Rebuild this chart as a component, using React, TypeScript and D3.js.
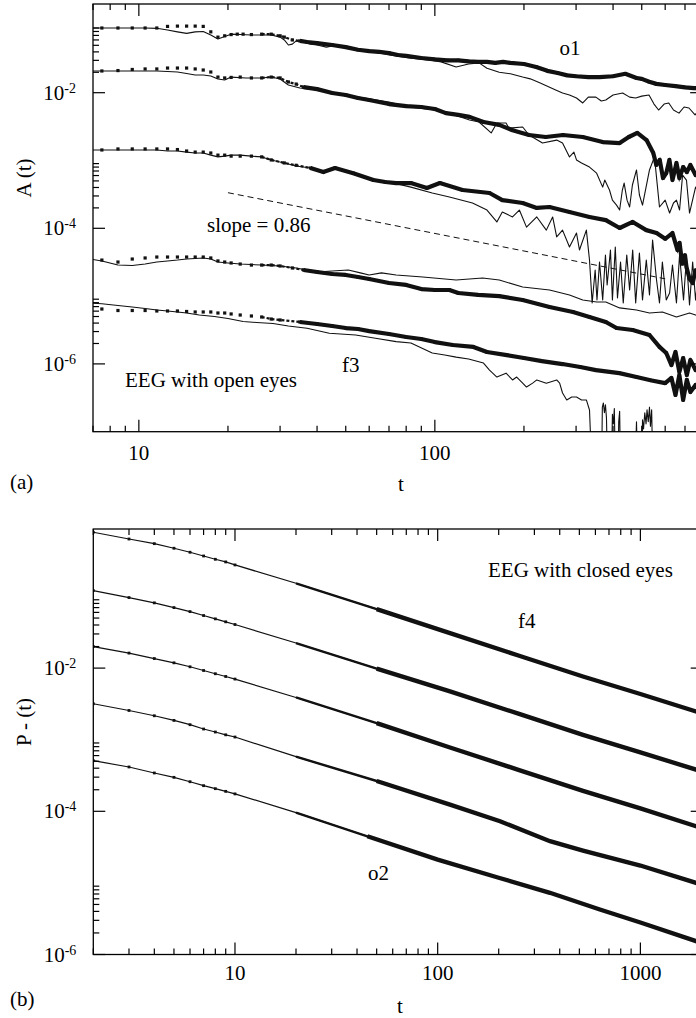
import React from "react";
import * as d3 from "d3";

type P = [number, number];

// ================= Panel (a): A(t), EEG with open eyes =================
// each channel: a thin line series and a point series, [t, A(t)]
const aCurve1Line: P[] = [[6.5,9.0e-2],[7.5,9.0e-2],[8.5,9.0e-2],[9.5,9.0e-2],[10.5,9.0e-2],[11.5,8.9e-2],[12.5,8.4e-2],[13.5,7.9e-2],[14.5,7.5e-2],[15.5,7.9e-2],[16.5,8.0e-2],[17.5,7.1e-2],[18.5,6.2e-2],[19.5,6.75e-2],[20.5,7.3e-2],[22,7.2e-2],[24,7.1e-2],[26,7.1e-2],[28,7.1e-2],[30,6.6e-2],[31,6.0e-2],[32,5.05e-2],[33,5.2e-2],[34,5.8e-2],[36,5.6e-2],[38,5.2e-2],[40,5.05e-2],[43,4.7e-2],[45,4.9e-2],[48,4.9e-2],[50,4.55e-2],[55,4.3e-2],[60,4.0e-2],[65,3.85e-2],[70,3.6e-2],[82,3.25e-2],[98,3.0e-2],[105,2.85e-2],[118,2.4e-2],[130,2.65e-2],[141,2.75e-2],[150,2.3e-2],[165,2.0e-2],[180,1.9e-2],[198,1.7e-2],[210,1.6e-2],[226,1.4e-2],[240,1.25e-2],[256,1.1e-2],[270,9.9e-3],[285,9.25e-3],[301,8.35e-3],[316,7.05e-3],[330,8.6e-3],[350,8.6e-3],[365,7.55e-3],[378,7.8e-3],[400,9.25e-3],[431,9.9e-3],[455,8.6e-3],[477,8.35e-3],[500,8.9e-3],[529,9.25e-3],[550,6.8e-3],[570,5.55e-3],[595,6.8e-3],[617,7.05e-3],[640,5.55e-3],[668,5.0e-3],[695,6.15e-3],[722,5.95e-3],[757,4.7e-3],[780,5.55e-3]];
const aCurve1Pts: P[] = [[7.5,9.0e-2],[8.5,9.0e-2],[9.5,9.0e-2],[10.5,9.0e-2],[11.5,9.0e-2],[12.5,9.5e-2],[13.5,9.6e-2],[14.5,9.6e-2],[15.5,9.6e-2],[16.5,9.5e-2],[17.5,7.9e-2],[18.5,6.6e-2],[19.5,6.9e-2],[20.5,7.2e-2],[21.5,7.3e-2],[22.5,7.3e-2],[24,7.2e-2],[26,7.3e-2],[28,7.3e-2],[30,6.9e-2],[31,6.6e-2],[33,6.0e-2],[35,5.8e-2],[37,5.6e-2],[40,5.4e-2],[45,5.05e-2],[50,4.7e-2],[55,4.3e-2],[60,4.1e-2],[65,4.0e-2],[70,3.85e-2],[75,3.6e-2],[80,3.5e-2],[90,3.25e-2],[100,3.1e-2],[110,3.0e-2],[120,3.0e-2],[130,2.9e-2],[140,2.85e-2],[150,2.85e-2],[160,2.75e-2],[170,2.85e-2],[180,2.75e-2],[200,2.65e-2],[220,2.4e-2],[240,2.1e-2],[260,1.95e-2],[280,1.8e-2],[300,1.75e-2],[330,1.7e-2],[360,1.7e-2],[400,1.75e-2],[440,1.9e-2],[480,1.65e-2],[500,1.6e-2],[530,1.45e-2],[560,1.35e-2],[600,1.3e-2],[650,1.25e-2],[700,1.2e-2],[750,1.17e-2],[800,1.17e-2]];

const aCurve2Line: P[] = [[6.5,2.09e-2],[7.5,2.09e-2],[8.5,2.09e-2],[9.5,2.09e-2],[10.5,2.09e-2],[11.5,2.09e-2],[12.5,2.05e-2],[13.5,2.02e-2],[14.5,1.92e-2],[15.5,1.82e-2],[16.5,1.82e-2],[17.5,1.76e-2],[18.5,1.59e-2],[19.5,1.54e-2],[20.5,1.7e-2],[23,1.65e-2],[26,1.65e-2],[28,1.7e-2],[30,1.59e-2],[32,1.3e-2],[35,1.17e-2],[40,1.1e-2],[45,9.9e-3],[50,9.25e-3],[55,8.6e-3],[60,8.1e-3],[70,7.3e-3],[82,6.15e-3],[100,5.55e-3],[109,5.2e-3],[120,4.5e-3],[131,3.95e-3],[141,3.7e-3],[155,2.55e-3],[162,3.57e-3],[174,3.57e-3],[178,3.0e-3],[198,3.12e-3],[208,2.38e-3],[231,1.81e-3],[258,2.0e-3],[270,1.81e-3],[285,1.13e-3],[295,1.33e-3],[301,1.02e-3],[313,9.2e-4],[333,8.0e-4],[352,6.5e-4],[369,4.05e-4],[375,5.15e-4],[389,3.67e-4],[398,2.6e-4],[411,2.2e-4],[421,1.86e-4],[430,3.67e-4],[436,4.65e-4],[446,2.6e-4],[455,2.06e-4],[465,4.35e-4],[480,7.25e-4],[491,3.1e-4],[503,2.2e-4],[531,7.25e-4],[552,1.13e-3],[574,2.06e-4],[600,2.6e-4],[621,1.68e-4],[640,2.36e-4],[655,2.6e-4],[671,1.86e-4],[687,6.1e-4],[708,5.15e-4],[725,1.68e-4],[760,4.05e-4],[800,2.6e-4]];
const aCurve2Pts: P[] = [[7.5,2.09e-2],[8.5,2.12e-2],[9.5,2.2e-2],[10.5,2.24e-2],[11.5,2.24e-2],[12.5,2.31e-2],[13.5,2.31e-2],[14.5,2.31e-2],[15.5,2.24e-2],[16.5,2.16e-2],[17.5,2.02e-2],[18.5,1.7e-2],[19.5,1.65e-2],[20.5,1.68e-2],[22,1.7e-2],[24,1.65e-2],[26,1.65e-2],[28,1.7e-2],[30,1.65e-2],[32,1.44e-2],[34,1.34e-2],[36,1.21e-2],[40,1.13e-2],[45,9.9e-3],[50,9.25e-3],[55,8.35e-3],[60,7.8e-3],[70,6.8e-3],[80,6.35e-3],[90,6.15e-3],[100,5.75e-3],[109,5.0e-3],[120,4.7e-3],[131,4.4e-3],[146,3.7e-3],[165,3.35e-3],[183,2.8e-3],[208,2.38e-3],[237,2.22e-3],[271,2.38e-3],[316,2.22e-3],[369,1.87e-3],[421,1.81e-3],[452,2.22e-3],[483,2.55e-3],[519,2.0e-3],[547,1.29e-3],[560,8.6e-4],[575,1.02e-3],[590,5.52e-4],[605,6.5e-4],[620,1.02e-3],[635,5.15e-4],[655,9.2e-4],[670,5.52e-4],[690,8.0e-4],[710,6.75e-4],[730,8.6e-4],[760,6.1e-4],[800,7.75e-4]];

const aCurve3Line: P[] = [[6.5,1.43e-3],[7.5,1.43e-3],[8.5,1.43e-3],[9.5,1.43e-3],[10.5,1.43e-3],[11.5,1.43e-3],[12.5,1.38e-3],[13.5,1.38e-3],[14.5,1.33e-3],[15.5,1.29e-3],[16.5,1.29e-3],[17.5,1.2e-3],[18.5,1.13e-3],[19.5,1.16e-3],[20.5,1.2e-3],[22,1.2e-3],[24,1.16e-3],[26,1.13e-3],[28,1.02e-3],[31,9.2e-4],[34,8.3e-4],[38,7.75e-4],[42,6.75e-4],[46,7.75e-4],[53,6.5e-4],[62,5.15e-4],[70,4.82e-4],[83,4.05e-4],[98,3.32e-4],[112,2.9e-4],[134,2.36e-4],[150,1.86e-4],[162,1.24e-4],[169,1.74e-4],[183,1.47e-4],[193,1.86e-4],[204,1.04e-4],[221,1.47e-4],[238,9.4e-5],[250,1.47e-4],[258,7.45e-5],[270,9.4e-5],[285,5.3e-5],[301,8.5e-5],[308,4.79e-5],[325,9.4e-5],[333,3.4e-5],[340,7.9e-6],[348,2.43e-5],[353,8.75e-6],[360,3.18e-5],[369,8.75e-6],[377,4.04e-5],[382,1.46e-5],[392,4.79e-5],[398,8.75e-6],[407,5.3e-5],[414,9.37e-6],[424,3.18e-5],[433,7.9e-6],[445,4.04e-5],[455,1.23e-5],[466,4.79e-5],[477,7.9e-6],[491,4.32e-5],[503,8.75e-6],[518,3.4e-5],[531,1.04e-5],[544,6.7e-5],[561,1.73e-5],[574,7.9e-6],[587,3.18e-5],[605,8.75e-6],[621,1.11e-5],[635,2.87e-5],[655,7.9e-6],[671,4.04e-5],[692,8.75e-6],[708,3.65e-5],[725,7.4e-6],[743,3.18e-5],[760,8.75e-6],[780,2.6e-5]];
const aCurve3Pts: P[] = [[7.5,1.43e-3],[8.5,1.48e-3],[9.5,1.48e-3],[10.5,1.48e-3],[11.5,1.48e-3],[12.5,1.48e-3],[13.5,1.45e-3],[14.5,1.38e-3],[15.5,1.33e-3],[16.5,1.33e-3],[17.5,1.29e-3],[18.5,1.2e-3],[19.5,1.2e-3],[20.5,1.16e-3],[22,1.16e-3],[24,1.16e-3],[26,1.13e-3],[28,1.02e-3],[31,9.2e-4],[34,8.5e-4],[38,7.75e-4],[42,6.75e-4],[46,7.75e-4],[53,6.5e-4],[62,5.15e-4],[68,4.82e-4],[74,4.65e-4],[83,4.65e-4],[94,3.93e-4],[104,4.65e-4],[124,3.67e-4],[153,3.32e-4],[169,2.6e-4],[198,2.36e-4],[221,2.0e-4],[244,2.06e-4],[285,1.74e-4],[333,1.47e-4],[378,1.32e-4],[421,1.01e-4],[466,1.24e-4],[518,9.4e-5],[561,8.5e-5],[600,7.0e-5],[635,8.5e-5],[660,4.8e-5],[671,6.1e-5],[685,3.0e-5],[700,4.0e-5],[708,2.69e-5],[725,1.8e-5],[743,1.56e-5],[760,2.4e-5],[800,1.3e-5]];

const aCurve4Line: P[] = [[6.5,3.65e-5],[7.5,3.3e-5],[8.5,2.87e-5],[9.5,2.83e-5],[10.5,2.97e-5],[11.5,3.18e-5],[12.5,3.3e-5],[13.5,3.4e-5],[14.5,3.52e-5],[15.5,3.58e-5],[16.5,3.65e-5],[17.5,3.52e-5],[18.5,3.18e-5],[20,3.08e-5],[22,2.97e-5],[26,2.87e-5],[30,2.78e-5],[34,2.6e-5],[40,2.27e-5],[45,2.35e-5],[51,2.43e-5],[56,2.2e-5],[60,2.05e-5],[66,2.2e-5],[74,2.05e-5],[91,1.91e-5],[118,1.73e-5],[145,1.85e-5],[165,1.73e-5],[198,1.36e-5],[244,1.23e-5],[285,1.04e-5],[316,8.75e-6],[352,8.2e-6],[378,8.2e-6],[421,6.7e-6],[480,6.23e-6],[531,5.63e-6],[587,5.83e-6],[655,4.92e-6],[725,5.63e-6],[760,5.27e-6],[800,4.9e-6]];
const aCurve4Pts: P[] = [[7.5,3.4e-5],[8.5,3.18e-5],[9.5,3.52e-5],[10.5,3.65e-5],[11.5,3.77e-5],[12.5,3.77e-5],[13.5,3.77e-5],[14.5,3.77e-5],[15.5,3.77e-5],[16.5,3.77e-5],[17.5,3.65e-5],[18.5,3.3e-5],[19.5,3.18e-5],[20.5,3.08e-5],[22,2.97e-5],[24,2.87e-5],[26,2.87e-5],[28,2.87e-5],[30,2.78e-5],[33,2.6e-5],[36,2.43e-5],[40,2.27e-5],[45,2.12e-5],[50,2.05e-5],[55,1.91e-5],[60,1.79e-5],[70,1.56e-5],[80,1.46e-5],[90,1.27e-5],[100,1.23e-5],[112,1.23e-5],[120,1.11e-5],[140,1.04e-5],[165,1.0e-5],[198,8.75e-6],[244,6.9e-6],[293,5.83e-6],[333,4.92e-6],[378,4.15e-6],[411,3.38e-6],[466,3.16e-6],[531,2.67e-6],[574,1.78e-6],[605,1.45e-6],[630,9.6e-7],[650,1.5e-6],[670,7.6e-7],[690,1.22e-6],[710,6.86e-7],[730,1.14e-6],[760,8.1e-7],[800,1.07e-6]];

const aCurve5Line: P[] = [[6.5,8.0e-6],[7.5,7.7e-6],[8.5,7.26e-6],[9.5,6.9e-6],[10.5,6.56e-6],[11.5,6.23e-6],[12.5,6.03e-6],[13.5,5.83e-6],[14.5,5.63e-6],[16,5.26e-6],[18,5.0e-6],[20,4.67e-6],[22.5,4.22e-6],[25,4.08e-6],[28.4,3.94e-6],[32,3.62e-6],[37,3.35e-6],[44,2.83e-6],[54,2.67e-6],[63,2.39e-6],[74,2.13e-6],[83,2.03e-6],[98,1.45e-6],[108,1.35e-6],[118,1.26e-6],[130,1.18e-6],[146,1.03e-6],[153,8.1e-7],[162,6.4e-7],[174,7.3e-7],[183,5.8e-7],[189,6.4e-7],[198,5.2e-7],[204,4.56e-7],[214,5.2e-7],[221,5.8e-7],[238,5.2e-7],[258,5.8e-7],[264,5.2e-7],[270,3.72e-7],[279,2.94e-7],[290,3.25e-7],[301,3.25e-7],[313,2.94e-7],[325,2.94e-7],[333,2.09e-7],[339,3e-8],[366,3e-8],[368,2.3e-7],[371,2.65e-7],[374,1.9e-7],[377,2.5e-7],[380,1.6e-7],[383,3e-8],[395,3e-8],[398,1.8e-7],[401,1.3e-7],[404,2.2e-7],[407,3e-8],[416,3e-8],[418,1.4e-7],[421,2.0e-7],[424,3e-8],[475,3e-8],[480,1.4e-7],[484,3e-8],[500,3e-8],[503,1.5e-7],[507,1.1e-7],[512,1.9e-7],[517,1.3e-7],[521,2.1e-7],[526,1.4e-7],[531,2.3e-7],[535,1.2e-7],[540,2.1e-7],[545,3e-8],[800,3e-8]];
const aCurve5Pts: P[] = [[7.5,6.45e-6],[8.5,6.13e-6],[9.5,6.13e-6],[10.5,6.13e-6],[11.5,6.03e-6],[12.5,6.03e-6],[13.5,6.03e-6],[14.5,5.93e-6],[15.5,5.83e-6],[16.5,5.83e-6],[17.5,5.83e-6],[18.5,5.63e-6],[19.5,5.63e-6],[20.5,5.45e-6],[22,5.26e-6],[24,5.09e-6],[26,4.92e-6],[28,4.59e-6],[30,4.44e-6],[35,4.15e-6],[40,3.88e-6],[45,3.62e-6],[50,3.38e-6],[55,3.27e-6],[60,3.05e-6],[70,2.76e-6],[80,2.49e-6],[90,2.33e-6],[100,2.1e-6],[115,1.9e-6],[135,1.78e-6],[150,1.5e-6],[175,1.35e-6],[200,1.22e-6],[230,1.1e-6],[270,9.95e-7],[310,9.0e-7],[350,8.1e-7],[420,7.3e-7],[480,6.4e-7],[540,5.7e-7],[600,5.2e-7],[630,6.2e-7],[650,3.48e-7],[670,6.86e-7],[690,2.94e-7],[710,5.8e-7],[730,3.85e-7],[760,4.9e-7],[800,3.48e-7]];

const aSlopeT = [20, 600];
const aSlopeA = [3.35e-4, 1.8e-5];

const aLines = [aCurve1Line, aCurve2Line, aCurve3Line, aCurve4Line, aCurve5Line];
const aPoints = [aCurve1Pts, aCurve2Pts, aCurve3Pts, aCurve4Pts, aCurve5Pts];

// ================= Panel (b): P-(t), EEG with closed eyes =================
const bCurve1: P[] = [[2,0.789],[3,0.635],[4,0.547],[5,0.472],[6,0.415],[7,0.368],[8,0.331],[9,0.304],[10,0.276],[20,0.153],[50,0.0667],[115,0.0308],[250,0.0150],[521,0.00763],[1000,0.00435],[1880,0.00248],[2030,0.00233]];
const bCurve2: P[] = [[2,0.121],[3,0.0966],[4,0.0815],[5,0.070],[6,0.0615],[7,0.0542],[8,0.0487],[9,0.0443],[10,0.0406],[20,0.0224],[50,0.00981],[115,0.00472],[250,0.00231],[521,0.00117],[1000,0.000667],[1880,0.000382],[2030,0.000357]];
const bCurve3: P[] = [[2,0.0200],[3,0.0162],[4,0.0136],[5,0.01185],[6,0.01043],[7,0.00926],[8,0.00834],[9,0.00764],[10,0.00703],[20,0.00389],[50,0.00170],[115,0.000778],[250,0.000380],[521,0.000193],[1000,0.000110],[1880,6.18e-5],[2030,5.8e-5]];
const bCurve4: P[] = [[2,0.00318],[3,0.00256],[4,0.00216],[5,0.00186],[6,0.00162],[7,0.00141],[8,0.00128],[9,0.00117],[10,0.00109],[20,0.00058],[50,0.000265],[115,0.000124],[203,7.26e-5],[358,3.82e-5],[521,2.83e-5],[1000,1.75e-5],[1880,1.0e-5],[2030,9.4e-6]];
const bCurve5: P[] = [[2,0.000509],[3,0.000416],[4,0.000343],[5,0.000298],[6,0.000259],[7,0.000228],[8,0.000207],[9,0.000190],[10,0.000175],[20,9.6e-5],[45,4.48e-5],[100,2.12e-5],[200,1.18e-5],[358,7.28e-6],[631,4.25e-6],[1000,2.8e-6],[1880,1.54e-6],[2030,1.44e-6]];
const bCurves = [bCurve1, bCurve2, bCurve3, bCurve4, bCurve5];

const FONT = "'Liberation Serif', 'Times New Roman', Times, serif";

type Tick = { v: number; m: number; e: number };
function logTicks(lo: number, hi: number): Tick[] {
  const out: Tick[] = [];
  for (let e = Math.floor(Math.log10(lo)) - 1; e <= Math.ceil(Math.log10(hi)); e++) {
    for (let m = 1; m <= 9; m++) {
      const v = m * Math.pow(10, e);
      if (v >= lo * 0.9999 && v <= hi * 1.0001) out.push({ v, m, e });
    }
  }
  return out;
}

function Panel(props: {
  id: string;
  x: d3.ScaleLogarithmic<number, number>;
  y: d3.ScaleLogarithmic<number, number>;
  top: number;
  bottom: number;
  xLabels: { v: number; s: string }[];
  yLabels: number[];
  xLabelBase: number;
  children?: React.ReactNode;
}) {
  const { id, x, y, top, bottom } = props;
  const [x0, x1] = x.range();
  const left = x0;
  const right = x1;
  const xt = logTicks(x.domain()[0], x.domain()[1]);
  const yt = logTicks(y.invert(bottom), y.invert(top)).filter((t) => t.e % 2 === 0);
  const major = 12;
  const minor = 6;
  const sw = 1.2;
  return (
    <g>
      <defs>
        <clipPath id={id}>
          <rect x={left} y={top} width={right - left} height={bottom - top} />
        </clipPath>
      </defs>
      <g clipPath={`url(#${id})`}>{props.children}</g>
      <rect x={left} y={top} width={right - left} height={bottom - top} fill="none" stroke="#000" strokeWidth={1.3} />
      {xt.map((t, i) => {
        const px = x(t.v);
        const L = t.m === 1 ? major : minor;
        return (
          <g key={"xt" + i}>
            <line x1={px} x2={px} y1={bottom} y2={bottom - L} stroke="#000" strokeWidth={sw} />
            <line x1={px} x2={px} y1={top} y2={top + L} stroke="#000" strokeWidth={sw} />
          </g>
        );
      })}
      {yt.map((t, i) => {
        const py = y(t.v);
        const L = t.m === 1 ? major : minor;
        return (
          <g key={"yt" + i}>
            <line x1={left} x2={left + L} y1={py} y2={py} stroke="#000" strokeWidth={sw} />
            <line x1={right} x2={right - L} y1={py} y2={py} stroke="#000" strokeWidth={sw} />
          </g>
        );
      })}
      {props.xLabels.map((l, i) => (
        <text key={"xl" + i} x={x(l.v)} y={props.xLabelBase} textAnchor="middle" fontSize={21} fontFamily={FONT}>
          {l.s}
        </text>
      ))}
      {props.yLabels.map((e, i) => (
        <text key={"yl" + i} x={left - 17} y={y(Math.pow(10, e)) + 7} textAnchor="end" fontSize={21} fontFamily={FONT}>
          10
          <tspan fontSize={14} dy={-7}>
            {String(e)}
          </tspan>
        </text>
      ))}
    </g>
  );
}

export default function App() {
  // panel (a)
  const aTop = 4;
  const aBottom = 431.7;
  const aLeft = 93;
  const aDecX = 296;
  const aDecY = 67.8;
  const xa = d3.scaleLog().domain([7, 800]).range([aLeft, aLeft + aDecX * Math.log10(800 / 7)]);
  const ya = d3.scaleLog().domain([1e-7, 1e-2]).range([aBottom, aBottom - 5 * aDecY]);
  const lineA = d3.line<P>().x((d) => xa(d[0])).y((d) => ya(d[1]));

  // panel (b)
  const bTop = 529;
  const bBottom = 954.5;
  const bLeft = 93.3;
  const bDecX = 202.7;
  const bDecY = 71.6;
  const xb = d3.scaleLog().domain([2, 2030]).range([bLeft, bLeft + bDecX * Math.log10(2030 / 2)]);
  const yb = d3.scaleLog().domain([1e-6, 1e-2]).range([bBottom, bBottom - 4 * bDecY]);
  const lineB = d3.line<P>().x((d) => xb(d[0])).y((d) => yb(d[1]));

  const sq = 3.2;
  const slope: P[] = aSlopeT.map((t, i) => [t, aSlopeA[i]] as P);

  return (
    <svg
      width={696}
      height={1018}
      style={{ position: "absolute", left: 0, top: 0, background: "#fff" }}
      fontFamily={FONT}
    >
      <rect x={0} y={0} width={696} height={1018} fill="#fff" />
      <Panel
        id="clipA"
        x={xa}
        y={ya}
        top={aTop}
        bottom={aBottom}
        xLabels={[{ v: 10, s: "10" }, { v: 100, s: "100" }]}
        yLabels={[-2, -4, -6]}
        xLabelBase={460}
      >
        {aLines.map((d, i) => (
          <path key={"al" + i} d={lineA(d) || ""} fill="none" stroke="#111" strokeWidth={1.1} strokeLinejoin="round" />
        ))}
        {aPoints.map((d, i) => (
          <path
            key={"apm" + i}
            d={lineA(d.filter((p) => p[0] >= 26)) || ""}
            fill="none"
            stroke="#111"
            strokeWidth={2.2}
            strokeDasharray="3,2"
          />
        ))}
        {aPoints.map((d, i) => (
          <path
            key={"ap" + i}
            d={lineA(d.filter((p) => p[0] >= 35)) || ""}
            fill="none"
            stroke="#111"
            strokeWidth={4.2}
            strokeLinejoin="round"
          />
        ))}
        {aPoints.map((d, i) => (
          <g key={"aps" + i}>
            {d.map((p, j) => (
              <rect key={j} x={xa(p[0]) - sq / 2} y={ya(p[1]) - sq / 2} width={sq} height={sq} fill="#111" />
            ))}
          </g>
        ))}
        <path d={lineA(slope) || ""} fill="none" stroke="#111" strokeWidth={1} strokeDasharray="6,4" />
      </Panel>
      <text x={570} y={55} textAnchor="middle" fontSize={21}>o1</text>
      <text x={207} y={232} fontSize={21}>slope = 0.86</text>
      <text x={342} y={372} fontSize={21}>f3</text>
      <text x={125} y={387} fontSize={21}>EEG with open eyes</text>
      <text x={401} y={491} textAnchor="middle" fontSize={21}>t</text>
      <text x={10} y={489} fontSize={21}>(a)</text>
      <text transform={`translate(31,178) rotate(-90)`} textAnchor="middle" fontSize={21}>A (t)</text>

      <Panel
        id="clipB"
        x={xb}
        y={yb}
        top={bTop}
        bottom={bBottom}
        xLabels={[{ v: 10, s: "10" }, { v: 100, s: "100" }, { v: 1000, s: "1000" }]}
        yLabels={[-2, -4, -6]}
        xLabelBase={980}
      >
        {bCurves.map((d, i) => (
          <g key={"bc" + i}>
            <path d={lineB(d) || ""} fill="none" stroke="#111" strokeWidth={1.2} />
            <path d={lineB(d.filter((p) => p[0] >= 20)) || ""} fill="none" stroke="#111" strokeWidth={2.4} />
            <path d={lineB(d.filter((p) => p[0] >= 45)) || ""} fill="none" stroke="#111" strokeWidth={4.4} />
            {d
              .filter((p) => p[0] <= 10)
              .map((p, j) => (
                <rect key={j} x={xb(p[0]) - 1.4} y={yb(p[1]) - 1.4} width={2.8} height={2.8} fill="#111" />
              ))}
          </g>
        ))}
      </Panel>
      <text x={488} y={577} fontSize={21}>EEG with closed eyes</text>
      <text x={518} y={628} fontSize={21}>f4</text>
      <text x={368} y={880} fontSize={21}>o2</text>
      <text x={400} y={1013} textAnchor="middle" fontSize={21}>t</text>
      <text x={10} y={1006} fontSize={21}>(b)</text>
      <text transform={`translate(31,722) rotate(-90)`} textAnchor="middle" fontSize={21}>P - (t)</text>
    </svg>
  );
}
